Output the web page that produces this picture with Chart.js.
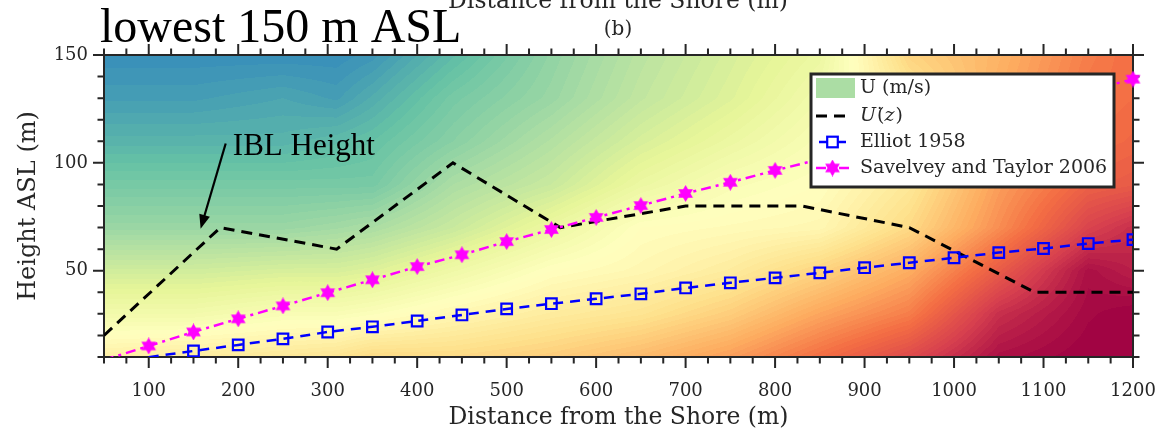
<!DOCTYPE html>
<html>
<head>
<meta charset="utf-8">
<script src="https://cdn.jsdelivr.net/npm/chart.js@4.4.1/dist/chart.umd.min.js"></script>
<style>
  html, body { margin: 0; padding: 0; background: #fff; }
  canvas { display: block; }
</style>
</head>
<body>
<canvas id="c" width="1160" height="433"></canvas>
<script>
// ---- IBL height estimates (m ASL) versus distance from the shore (m) ----
const iblX = [50, 180, 310, 440, 560, 700, 830, 950, 1090, 1200];
const iblZ = [20, 70, 60, 100, 70, 80, 80, 70, 40, 40];

const elliotX = [100, 150, 200, 250, 300, 350, 400, 450, 500, 550, 600, 650, 700, 750, 800, 850, 900, 950, 1000, 1050, 1100, 1150, 1200];
const elliotZ = [9.9, 12.8, 15.6, 18.4, 21.6, 24.0, 26.7, 29.5, 32.3, 34.7, 37.0, 39.3, 42.0, 44.4, 46.7, 49.0, 51.4, 53.7, 56.0, 58.4, 60.3, 62.6, 64.4];

const savelyevX = [50, 100, 150, 200, 250, 300, 350, 400, 450, 500, 550, 600, 650, 700, 750, 800, 850, 900, 950, 1000, 1050, 1100, 1150, 1200];
const savelyevZ = [8.6, 15.1, 21.6, 27.7, 33.7, 39.8, 45.8, 51.9, 57.4, 63.5, 69.1, 74.7, 80.2, 85.8, 91.0, 96.5, 101.7, 107.0, 112.2, 117.4, 122.6, 128.0, 133.4, 138.8];

// ---- wind speed field U (m/s) on a distance x height grid ----
const fieldX = [50, 150, 250, 310, 350, 440, 550, 650, 750, 850, 950, 1050, 1150, 1200];
const fieldZ = [10, 30, 50, 70, 90, 110, 130, 150];
const uAt10  = [6.6, 6.5, 6.4, 6.3, 6.1, 6.1, 5.9, 5.6, 5.2, 4.6, 4.0, 3.2, 3.0, 3.0];
const uAt30  = [7.4, 7.4, 7.2, 7.2, 7.1, 6.8, 6.5, 6.3, 5.9, 5.3, 4.8, 3.6, 3.1, 3.0];
const uAt50  = [8.1, 8.1, 8.0, 8.0, 7.9, 7.5, 7.0, 6.8, 6.5, 6.0, 5.4, 4.3, 3.2, 3.4];
const uAt70  = [8.8, 8.8, 8.8, 8.7, 8.6, 8.2, 7.6, 7.0, 6.9, 6.8, 6.1, 5.0, 3.9, 3.6];
const uAt90  = [9.2, 9.2, 9.2, 9.2, 9.2, 8.6, 8.2, 7.6, 7.2, 7.0, 6.4, 5.2, 4.4, 4.3];
const uAt110 = [9.6, 9.6, 9.6, 9.5, 9.4, 9.0, 8.5, 8.0, 7.6, 7.2, 6.4, 5.3, 4.6, 4.5];
const uAt130 = [9.9, 9.9, 9.8, 9.9, 9.7, 9.2, 8.8, 8.3, 7.9, 7.4, 6.4, 5.4, 4.7, 4.6];
const uAt150 = [10.1, 10.1, 10.1, 10.1, 10.0, 9.5, 8.9, 8.4, 8.0, 7.6, 6.0, 5.5, 4.8, 4.6];
const fieldRows = [uAt10, uAt30, uAt50, uAt70, uAt90, uAt110, uAt130, uAt150];

// colour limits and contour spacing for the filled field
const uMin = 3, uMax = 11, uStep = 0.08;

// axis ticks
const xTickLabels = [100, 200, 300, 400, 500, 600, 700, 800, 900, 1000, 1100, 1200];
const yTickLabels = [50, 100, 150];

// Spectral colormap (low = dark red, high = blue)
const spectral = ['#9e0142', '#d53e4f', '#f46d43', '#fdae61', '#fee08b', '#ffffbf', '#e6f598', '#abdda4', '#66c2a5', '#3288bd', '#5e4fa2']
  .map(h => [parseInt(h.slice(1, 3), 16), parseInt(h.slice(3, 5), 16), parseInt(h.slice(5, 7), 16)]);

function colourFor(u) {
  let t = (u - uMin) / (uMax - uMin);
  t = Math.max(0, Math.min(1, t));
  const p = t * (spectral.length - 1);
  const i = Math.min(spectral.length - 2, Math.floor(p));
  const f = p - i;
  const a = spectral[i], b = spectral[i + 1];
  return [a[0] + (b[0] - a[0]) * f, a[1] + (b[1] - a[1]) * f, a[2] + (b[2] - a[2]) * f];
}

function bracket(arr, v) {
  let i = 0;
  while (i < arr.length - 2 && v > arr[i + 1]) i++;
  const f = Math.max(0, Math.min(1, (v - arr[i]) / (arr[i + 1] - arr[i])));
  return [i, f];
}

function fieldAt(x, z) {
  const [i, fx] = bracket(fieldX, x);
  const [j, fz] = bracket(fieldZ, z);
  const r0 = fieldRows[j], r1 = fieldRows[j + 1];
  return r0[i] * (1 - fx) * (1 - fz) + r0[i + 1] * fx * (1 - fz) +
         r1[i] * (1 - fx) * fz + r1[i + 1] * fx * fz;
}

// six-pointed star marker
function hexagram(size, color) {
  const c = document.createElement('canvas');
  c.width = c.height = size;
  const g = c.getContext('2d');
  const r = size / 2;
  g.fillStyle = color;
  g.beginPath();
  for (let k = 0; k < 12; k++) {
    const ang = -Math.PI / 2 + k * Math.PI / 6;
    const rr = k % 2 === 0 ? r : r * 0.577;
    g.lineTo(r + rr * Math.cos(ang), r + rr * Math.sin(ang));
  }
  g.closePath();
  g.fill();
  return c;
}
const starImg = hexagram(17, '#ff00ff');

const AXIS = '#262626';
const SERIF = "'Liberation Serif', 'Times New Roman', serif";
const ROMAN = "'DejaVu Serif', serif";

// filled contour field, axes box and outward ticks
const fieldPlugin = {
  id: 'fieldPlugin',
  beforeDatasetsDraw(chart) {
    const { ctx, chartArea: a, scales: { x, y } } = chart;
    const left = Math.round(a.left), top = Math.round(a.top);
    const w = Math.round(a.right) - left, h = Math.round(a.bottom) - top;
    const img = ctx.createImageData(w, h);
    const xs = [];
    for (let px = 0; px < w; px++) xs.push(x.getValueForPixel(left + px + 0.5));
    for (let py = 0; py < h; py++) {
      const z = y.getValueForPixel(top + py + 0.5);
      for (let px = 0; px < w; px++) {
        const u = fieldAt(xs[px], z);
        const lvl = Math.floor((u - uMin) / uStep);
        const c = colourFor(uMin + (lvl + 0.5) * uStep);
        const k = (py * w + px) * 4;
        img.data[k] = c[0]; img.data[k + 1] = c[1]; img.data[k + 2] = c[2]; img.data[k + 3] = 255;
      }
    }
    ctx.putImageData(img, left, top);

    ctx.save();
    ctx.strokeStyle = AXIS;
    ctx.lineWidth = 2;
    ctx.strokeRect(a.left, a.top, a.right - a.left, a.bottom - a.top);
    // x ticks every 25 m, on bottom and top
    for (let v = 50; v <= 1200; v += 25) {
      const px = x.getPixelForValue(v);
      const len = v % 100 === 0 ? 11 : 6.5;
      ctx.beginPath();
      ctx.moveTo(px, a.bottom); ctx.lineTo(px, a.bottom + len);
      ctx.moveTo(px, a.top); ctx.lineTo(px, a.top - len);
      ctx.stroke();
    }
    // y ticks every 10 m, on left and right
    for (let v = 10; v <= 150; v += 10) {
      const py = y.getPixelForValue(v);
      const len = v % 50 === 0 ? 11 : 6.5;
      ctx.beginPath();
      ctx.moveTo(a.left, py); ctx.lineTo(a.left - len, py);
      ctx.moveTo(a.right, py); ctx.lineTo(a.right + len, py);
      ctx.stroke();
    }
    ctx.restore();
  },
  afterDatasetsDraw(chart) {
    const { ctx, scales: { x, y } } = chart;
    ctx.save();

    // annotation: IBL Height with arrow
    const ax0 = x.getPixelForValue(186), ay0 = y.getPixelForValue(109);
    const ax1 = x.getPixelForValue(158), ay1 = y.getPixelForValue(69.5);
    const ang = Math.atan2(ay1 - ay0, ax1 - ax0);
    ctx.strokeStyle = '#000'; ctx.fillStyle = '#000'; ctx.lineWidth = 2.2;
    ctx.beginPath(); ctx.moveTo(ax0, ay0);
    ctx.lineTo(ax1 - 10 * Math.cos(ang), ay1 - 10 * Math.sin(ang)); ctx.stroke();
    ctx.beginPath();
    ctx.moveTo(ax1, ay1);
    ctx.lineTo(ax1 - 14 * Math.cos(ang) + 5.5 * Math.sin(ang), ay1 - 14 * Math.sin(ang) - 5.5 * Math.cos(ang));
    ctx.lineTo(ax1 - 14 * Math.cos(ang) - 5.5 * Math.sin(ang), ay1 - 14 * Math.sin(ang) + 5.5 * Math.cos(ang));
    ctx.closePath(); ctx.fill();
    ctx.font = '31px ' + SERIF;
    ctx.textBaseline = 'alphabetic'; ctx.textAlign = 'left';
    ctx.fillText('IBL Height', x.getPixelForValue(194), y.getPixelForValue(103.5));

    // legend
    const L = 811, T = 74, R = 1114, B = 187;
    ctx.fillStyle = '#fff';
    ctx.fillRect(L, T, R - L, B - T);
    ctx.strokeStyle = '#262626'; ctx.lineWidth = 3;
    ctx.strokeRect(L, T, R - L, B - T);
    const rows = [88, 116, 142, 168];
    const s0 = 816, s1 = 849, sm = (s0 + s1) / 2, tx = 860;
    // U patch
    ctx.fillStyle = '#abdda4';
    ctx.fillRect(816, 78, 39, 20);
    // dashed black
    ctx.strokeStyle = '#000'; ctx.lineWidth = 3; ctx.setLineDash([11, 7]);
    ctx.beginPath(); ctx.moveTo(s0, rows[1]); ctx.lineTo(s1, rows[1]); ctx.stroke();
    // blue with square
    ctx.strokeStyle = '#0000ff'; ctx.lineWidth = 2.5; ctx.setLineDash([10, 7]);
    ctx.lineDashOffset = -3;
    ctx.beginPath(); ctx.moveTo(s0, rows[2]); ctx.lineTo(s1, rows[2]); ctx.stroke();
    ctx.setLineDash([]); ctx.lineDashOffset = 0;
    ctx.fillStyle = '#fff';
    ctx.fillRect(sm - 5.3, rows[2] - 5.3, 10.6, 10.6);
    ctx.lineWidth = 2.2;
    ctx.strokeRect(sm - 5.3, rows[2] - 5.3, 10.6, 10.6);
    // magenta dash-dot with star
    ctx.strokeStyle = '#ff00ff'; ctx.lineWidth = 2.5; ctx.setLineDash([10, 5, 3, 5]);
    ctx.beginPath(); ctx.moveTo(s0, rows[3]); ctx.lineTo(s1 + 4, rows[3]); ctx.stroke();
    ctx.setLineDash([]);
    ctx.drawImage(starImg, sm - 8.5, rows[3] - 8.5);
    // legend texts
    ctx.fillStyle = '#262626';
    ctx.textBaseline = 'middle';
    ctx.font = '19px ' + ROMAN;
    ctx.fillText('U (m/s)', tx, rows[0]);
    let cx = tx;
    ctx.font = 'italic 19px ' + ROMAN;
    ctx.fillText('U', cx, rows[1]); cx += ctx.measureText('U').width + 1;
    ctx.font = '19px ' + ROMAN;
    ctx.fillText('(\u0307', cx, rows[1]); cx += ctx.measureText('(').width;
    ctx.font = 'italic 19px ' + ROMAN;
    ctx.fillText('z', cx, rows[1]); cx += ctx.measureText('z').width + 1;
    ctx.font = '19px ' + ROMAN;
    ctx.fillText(')', cx, rows[1]);
    ctx.fillText('Elliot 1958', tx, rows[2]);
    ctx.fillText('Savelvey and Taylor 2006', tx, rows[3]);
    ctx.restore();
  },
  afterDraw(chart) {
    const { ctx } = chart;
    ctx.save();
    ctx.textBaseline = 'alphabetic';
    ctx.fillStyle = '#000';
    ctx.textAlign = 'left';
    ctx.font = '48px ' + SERIF;
    ctx.fillText('lowest 150 m ASL', 100, 42);
    ctx.fillStyle = AXIS;
    ctx.textAlign = 'center';
    ctx.font = '20px ' + ROMAN;
    ctx.fillText('(b)', 618, 35);
    ctx.font = '23.5px ' + ROMAN;
    ctx.fillText('Distance from the Shore (m)', 618, 8);
    ctx.restore();
  }
};

Chart.defaults.font.family = ROMAN;
Chart.defaults.color = AXIS;

function noOverflow(s) {
  s.paddingLeft = 0; s.paddingRight = 0; s.paddingTop = 0; s.paddingBottom = 0;
}

new Chart(document.getElementById('c'), {
  type: 'line',
  data: {
    datasets: [
      {
        label: 'U(z)',
        order: 3,
        data: iblX.map((v, i) => ({ x: v, y: iblZ[i] })),
        borderColor: '#000',
        borderWidth: 3,
        borderDash: [11, 7],
        pointRadius: 0,
        fill: false,
        tension: 0
      },
      {
        label: 'Elliot 1958',
        order: 2,
        data: elliotX.map((v, i) => ({ x: v, y: elliotZ[i] })),
        borderColor: '#0000ff',
        borderWidth: 2.5,
        borderDash: [10, 7],
        pointStyle: 'rect',
        pointRadius: elliotX.map((v, i) => i === 0 ? 0 : 7.5),
        pointBorderWidth: 2.2,
        pointBorderColor: '#0000ff',
        pointBackgroundColor: 'rgba(0,0,0,0)',
        fill: false,
        tension: 0
      },
      {
        label: 'Savelvey and Taylor 2006',
        order: 1,
        data: savelyevX.map((v, i) => ({ x: v, y: savelyevZ[i] })),
        borderColor: '#ff00ff',
        borderWidth: 2.5,
        borderDash: [10, 5, 3, 5],
        pointStyle: savelyevX.map((v, i) => i === 0 ? 'circle' : starImg),
        pointRadius: savelyevX.map((v, i) => i === 0 ? 0 : 8.5),
        fill: false,
        tension: 0,
        clip: { left: 0, top: 12, right: 12, bottom: 0 }
      }
    ]
  },
  options: {
    responsive: false,
    animation: false,
    events: [],
    layout: { padding: { top: 55, right: 27, left: 0, bottom: 0 } },
    plugins: { legend: { display: false }, tooltip: { enabled: false } },
    scales: {
      x: {
        type: 'linear',
        min: 50, max: 1200,
        grid: { display: false, drawTicks: false },
        border: { display: false },
        afterBuildTicks: s => { s.ticks = xTickLabels.map(v => ({ value: v })); },
        afterFit: s => { s.height = 76; noOverflow(s); },
        ticks: { font: { size: 18 }, color: AXIS, padding: 24, maxRotation: 0, autoSkip: false, callback: v => String(v) },
        title: { display: true, text: 'Distance from the Shore (m)', font: { size: 23.5 }, color: AXIS, padding: { top: 0, bottom: 1 } }
      },
      y: {
        type: 'linear',
        min: 10, max: 150,
        grid: { display: false, drawTicks: false },
        border: { display: false },
        afterBuildTicks: s => { s.ticks = yTickLabels.map(v => ({ value: v })); },
        afterFit: s => { s.width = 104; noOverflow(s); },
        ticks: { font: { size: 18 }, color: AXIS, padding: 16, callback: v => String(v) },
        title: { display: true, text: 'Height ASL (m)', font: { size: 24 }, color: AXIS, padding: { top: 14, bottom: 0 } }
      }
    }
  },
  plugins: [fieldPlugin]
});
</script>
</body>
</html>
